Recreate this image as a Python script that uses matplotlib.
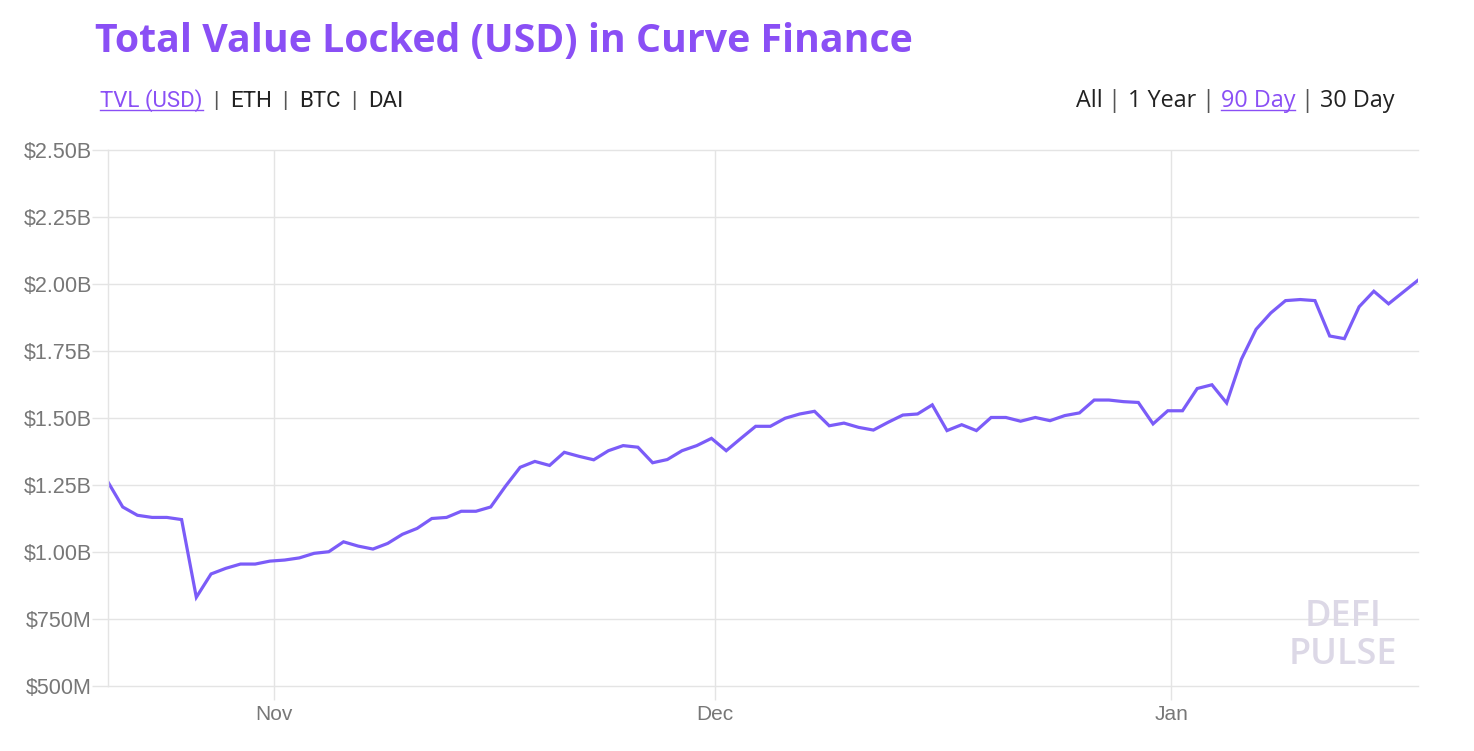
import numpy as np
import pandas as pd
import matplotlib
matplotlib.use("Agg")
import matplotlib.pyplot as plt
import matplotlib.dates as mdates
from matplotlib.lines import Line2D
from matplotlib.ticker import FuncFormatter, MultipleLocator

# daily TVL in billions USD (last 90 days)
start_date = "2020-10-20 18:00"
tvl = [
    1.261, 1.168, 1.137, 1.129, 1.129, 1.121, 0.831, 0.918, 0.939, 0.955,
    0.955, 0.966, 0.970, 0.978, 0.995, 1.001, 1.038, 1.022, 1.011, 1.032,
    1.066, 1.088, 1.125, 1.129, 1.152, 1.152, 1.168, 1.245,
    1.316, 1.338, 1.323, 1.372, 1.357, 1.344, 1.378, 1.397, 1.391, 1.333,
    1.345, 1.378, 1.397, 1.424, 1.378, 1.424, 1.469, 1.469, 1.499, 1.515,
    1.525, 1.471, 1.481, 1.465, 1.455, 1.484, 1.511, 1.515, 1.549, 1.453,
    1.475, 1.453, 1.502, 1.502, 1.488, 1.502, 1.490, 1.509, 1.519, 1.567,
    1.567, 1.561, 1.558, 1.478, 1.527, 1.527, 1.610, 1.624, 1.556, 1.719,
    1.831, 1.892, 1.938, 1.942, 1.938, 1.806, 1.796, 1.915, 1.973, 1.926,
    1.970, 2.014,
]
dates = pd.date_range(start_date, periods=len(tvl), freq="D")

left_tabs = [("TVL (USD)", True), ("  |  ", None), ("ETH", False), ("  |  ", None),
             ("BTC", False), ("  |  ", None), ("DAI", False)]
right_tabs = [("All", False), (" | ", None), ("1 Year", False), (" | ", None),
              ("90 Day", True), (" | ", None), ("30 Day", False)]

PURPLE = "#8a4ff5"
LINE = "#7b5cf8"
GRID = "#e4e4e4"
TXT = "#777777"

W, H = 1474, 751
fig = plt.figure(figsize=(W / 100, H / 100), dpi=100)
ax = fig.add_axes([108 / W, 1 - 686 / H, (1418 - 108) / W, (686 - 150) / H])

ax.plot(dates, tvl, color=LINE, lw=2.3, solid_joinstyle="miter")

ax.set_xlim(dates[0], dates[-1])
ax.set_ylim(0.5, 2.5)
ax.yaxis.set_major_locator(MultipleLocator(0.25))


def money(v, pos):
    if v < 1:
        return "$%dM" % round(v * 1000)
    return "$%.2fB" % v


ax.yaxis.set_major_formatter(FuncFormatter(money))
ax.xaxis.set_major_locator(mdates.MonthLocator())
ax.xaxis.set_major_formatter(mdates.DateFormatter("%b"))

ax.grid(True, color=GRID, lw=1.0)
ax.set_axisbelow(True)
for gl in ax.get_ygridlines():
    gl.set_clip_on(False)
for s in ["top", "right", "bottom"]:
    ax.spines[s].set_visible(False)
ax.spines["left"].set_color(GRID)
ax.spines["left"].set_linewidth(1.0)
ax.tick_params(axis="y", length=11.5, width=1.0, color=GRID, pad=0,
               labelsize=15.5, labelcolor=TXT)
ax.tick_params(axis="x", length=10, width=1.0, color=GRID, pad=4,
               labelsize=15, labelcolor=TXT)
for lab in ax.get_xticklabels() + ax.get_yticklabels():
    lab.set_family("Liberation Sans")

# watermark
ax.text(0.943, 0.128, "DEFI", transform=ax.transAxes, ha="center", va="center",
        fontsize=26, fontweight="semibold", color="#dcd8e6", family="Open Sans")
ax.text(0.943, 0.057, "PULSE", transform=ax.transAxes, ha="center", va="center",
        fontsize=26, fontweight="semibold", color="#dcd8e6", family="Open Sans")

fig.text(95 / W, 1 - 52 / H, "Total Value Locked (USD) in Curve Finance",
         fontsize=28.3, fontweight="bold", color=PURPLE, family="Open Sans",
         va="baseline", ha="left")

renderer = fig.canvas.get_renderer()


def tab_row(parts, x, y, anchor, size, family):
    # lay text runs side by side, underline the active one
    texts = []
    for s, active in parts:
        if active is None:
            col = "#555555"
        else:
            col = PURPLE if active else "#222222"
        t = fig.text(0, 1 - y / H, s, fontsize=size, family=family,
                     color=col, va="baseline")
        texts.append(t)
    widths = [t.get_window_extent(renderer).width for t in texts]
    pos = x if anchor == "left" else x - sum(widths)
    for t, w, (s, active) in zip(texts, widths, parts):
        t.set_x(pos / W)
        if active:
            fig.add_artist(Line2D([pos / W, (pos + w) / W],
                                  [1 - (y + 3) / H, 1 - (y + 3) / H],
                                  transform=fig.transFigure, color=PURPLE, lw=1))
        pos += w


tab_row(left_tabs, 100, 107, "left", 16, "Roboto")
tab_row(right_tabs, 1395, 107, "right", 16.8, "Open Sans")

fig.savefig("out.png", dpi=100, facecolor="white")
